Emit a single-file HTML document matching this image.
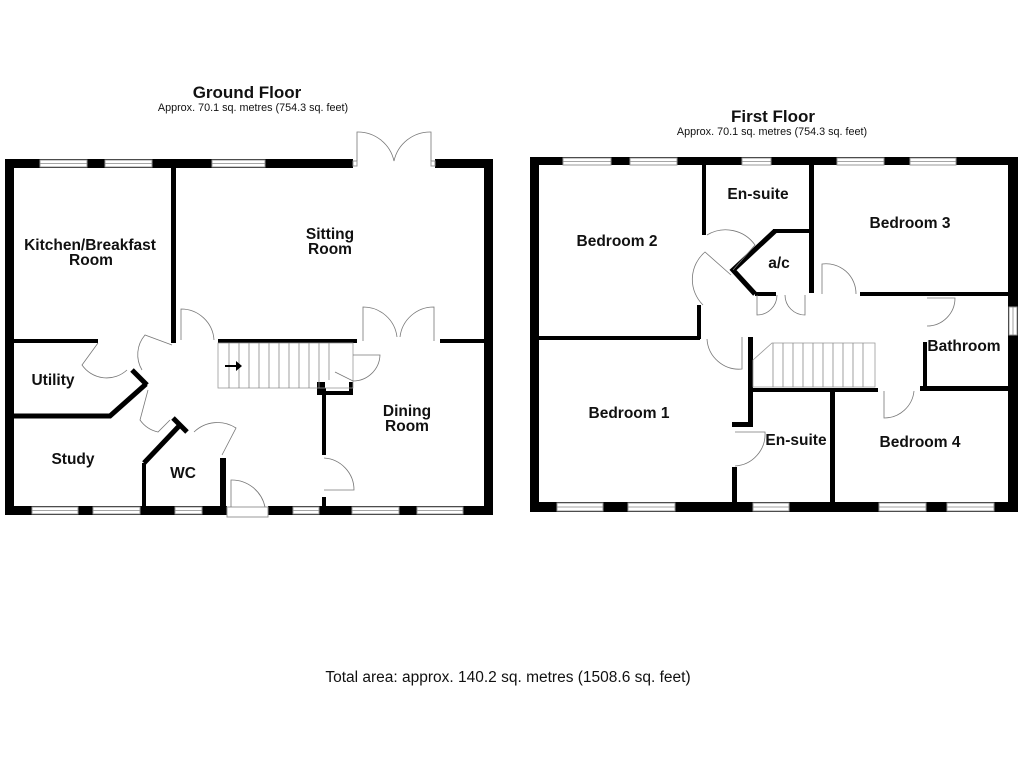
<!DOCTYPE html>
<html><head><meta charset="utf-8"><style>
html,body{margin:0;padding:0;background:#fff;}
svg{display:block;}
text{font-family:"Liberation Sans",Arial,sans-serif;fill:#111;}
.l{font-weight:bold;font-size:15.5px;text-anchor:middle;}
.w{fill:#fff;stroke:#999;stroke-width:1;}
.d{fill:none;stroke:#777;stroke-width:0.8;}
.s{stroke:#888;stroke-width:0.8;fill:none;}
</style></head><body>
<svg width="1024" height="768" viewBox="0 0 1024 768" xmlns="http://www.w3.org/2000/svg">
<rect width="1024" height="768" fill="#fff"/>
<text x="247" y="98" style="font-weight:bold;font-size:17px;text-anchor:middle">Ground Floor</text>
<text x="253" y="111" style="font-size:10.8px;text-anchor:middle">Approx. 70.1 sq. metres (754.3 sq. feet)</text>
<text x="773" y="122" style="font-weight:bold;font-size:17px;text-anchor:middle">First Floor</text>
<text x="772" y="135" style="font-size:10.8px;text-anchor:middle">Approx. 70.1 sq. metres (754.3 sq. feet)</text>
<text x="508" y="682" style="font-size:15.5px;text-anchor:middle">Total area: approx. 140.2 sq. metres (1508.6 sq. feet)</text>

<!-- ===== GROUND FLOOR ===== -->
<path d="M5 159H493V515H5Z M14 168V506H484V168Z" fill="#000" fill-rule="evenodd"/>
<rect class="w" x="40" y="160" width="47" height="7"/><line class="s" x1="40" y1="163.5" x2="87" y2="163.5"/>
<rect class="w" x="105" y="160" width="47" height="7"/><line class="s" x1="105" y1="163.5" x2="152" y2="163.5"/>
<rect class="w" x="212" y="160" width="53" height="7"/><line class="s" x1="212" y1="163.5" x2="265" y2="163.5"/>
<rect x="353" y="158" width="82" height="11" fill="#fff"/>
<rect class="w" x="353" y="161" width="4" height="5"/><rect class="w" x="431" y="161" width="4" height="5"/>
<path class="d" d="M357 161V132 A37 37 0 0 1 394 161 M431 161V132 A37 37 0 0 0 394 161"/>
<rect class="w" x="32" y="507" width="46" height="7"/><line class="s" x1="32" y1="510.5" x2="78" y2="510.5"/>
<rect class="w" x="93" y="507" width="47" height="7"/><line class="s" x1="93" y1="510.5" x2="140" y2="510.5"/>
<rect class="w" x="175" y="507" width="27" height="7"/><line class="s" x1="175" y1="510.5" x2="202" y2="510.5"/>
<rect x="227" y="505" width="41" height="12" fill="#fff"/><rect class="w" x="227" y="507" width="41" height="10"/>
<path class="d" d="M231 507V480 A34 34 0 0 1 265 507"/>
<rect class="w" x="293" y="507" width="26" height="7"/><line class="s" x1="293" y1="510.5" x2="319" y2="510.5"/>
<rect class="w" x="352" y="507" width="47" height="7"/><line class="s" x1="352" y1="510.5" x2="399" y2="510.5"/>
<rect class="w" x="417" y="507" width="46" height="7"/><line class="s" x1="417" y1="510.5" x2="463" y2="510.5"/>
<g fill="#000">
<rect x="171" y="168" width="5" height="175"/>
<rect x="13" y="339" width="85" height="4"/>
<rect x="218" y="339" width="139" height="4"/>
<rect x="440" y="339" width="44" height="4"/>
<rect x="322" y="388" width="4" height="67"/>
<rect x="322" y="497" width="4" height="10"/>
<rect x="317" y="382" width="8" height="13"/>
<rect x="317" y="391" width="36" height="4"/>
<rect x="349" y="382" width="4" height="13"/>
<rect x="142" y="463" width="4" height="44"/>
<rect x="220" y="458" width="6" height="49"/>
</g>
<g stroke="#000" fill="none">
<polyline points="13,416 110,416 146,384" stroke-width="5"/>
<line x1="132" y1="370" x2="147" y2="385" stroke-width="5"/>
<polyline points="144,463 180,425" stroke-width="5"/>
<line x1="173" y1="418" x2="187" y2="432" stroke-width="5"/>
</g>
<rect x="218" y="343" width="135" height="45" fill="none" stroke="#999" stroke-width="0.8"/>
<g class="s">
<line x1="229" y1="343" x2="229" y2="388"/><line x1="239" y1="343" x2="239" y2="388"/><line x1="249" y1="343" x2="249" y2="388"/><line x1="259" y1="343" x2="259" y2="388"/><line x1="269" y1="343" x2="269" y2="388"/><line x1="279" y1="343" x2="279" y2="388"/><line x1="289" y1="343" x2="289" y2="388"/><line x1="299" y1="343" x2="299" y2="388"/><line x1="309" y1="343" x2="309" y2="388"/><line x1="319" y1="343" x2="319" y2="388"/><line x1="329" y1="343" x2="329" y2="380"/>
</g>
<path d="M225 365H236V361L242 366L236 371V367H225Z" fill="#000"/>
<path class="d" d="M181 340V309 A33 33 0 0 1 214 340"/>
<path class="d" d="M363 341V307 A34 34 0 0 1 397 337 M434 341V307 A34 34 0 0 0 400 337"/>
<path class="d" d="M353 355H380 A27 27 0 0 1 353 381 L335 372"/>
<path class="d" d="M98 343L82 365 A30 30 0 0 0 127 370"/>
<path class="d" d="M172 345L145 335 A30 30 0 0 0 142 370"/>
<path class="d" d="M148 390L140 420 A30 30 0 0 0 158 432 L170 420"/>
<path class="d" d="M194 432 A34 34 0 0 1 236 428 L222 455"/>
<path class="d" d="M324 458 A32 32 0 0 1 354 490 H324"/>
<text class="l" x="90" y="250">Kitchen/Breakfast</text>
<text class="l" x="91" y="265">Room</text>
<text class="l" x="330" y="239">Sitting</text>
<text class="l" x="330" y="254">Room</text>
<text class="l" x="53" y="385">Utility</text>
<text class="l" x="73" y="464">Study</text>
<text class="l" x="183" y="478">WC</text>
<text class="l" x="407" y="416">Dining</text>
<text class="l" x="407" y="431">Room</text>

<!-- ===== FIRST FLOOR ===== -->
<path d="M530 157H1018V512H530Z M539 165V502H1008V165Z" fill="#000" fill-rule="evenodd"/>
<rect class="w" x="563" y="158" width="48" height="7"/><line class="s" x1="563" y1="161.5" x2="611" y2="161.5"/>
<rect class="w" x="630" y="158" width="47" height="7"/><line class="s" x1="630" y1="161.5" x2="677" y2="161.5"/>
<rect class="w" x="742" y="158" width="29" height="7"/><line class="s" x1="742" y1="161.5" x2="771" y2="161.5"/>
<rect class="w" x="837" y="158" width="47" height="7"/><line class="s" x1="837" y1="161.5" x2="884" y2="161.5"/>
<rect class="w" x="910" y="158" width="46" height="7"/><line class="s" x1="910" y1="161.5" x2="956" y2="161.5"/>
<rect class="w" x="557" y="503" width="46" height="8"/><line class="s" x1="557" y1="507" x2="603" y2="507"/>
<rect class="w" x="628" y="503" width="47" height="8"/><line class="s" x1="628" y1="507" x2="675" y2="507"/>
<rect class="w" x="753" y="503" width="36" height="8"/><line class="s" x1="753" y1="507" x2="789" y2="507"/>
<rect class="w" x="879" y="503" width="47" height="8"/><line class="s" x1="879" y1="507" x2="926" y2="507"/>
<rect class="w" x="947" y="503" width="47" height="8"/><line class="s" x1="947" y1="507" x2="994" y2="507"/>
<rect class="w" x="1009" y="307" width="8" height="28"/><line class="s" x1="1013" y1="307" x2="1013" y2="335"/>
<g fill="#000">
<rect x="702" y="165" width="4" height="70"/>
<rect x="809" y="165" width="5" height="128"/>
<rect x="773" y="229" width="38" height="4"/>
<rect x="755" y="292" width="21" height="4"/>
<rect x="860" y="292" width="148" height="4"/>
<rect x="923" y="342" width="4" height="47"/>
<rect x="920" y="386" width="88" height="5"/>
<rect x="539" y="336" width="161" height="4"/>
<rect x="697" y="305" width="4" height="34"/>
<rect x="748" y="337" width="5" height="88"/>
<rect x="732" y="422" width="21" height="5"/>
<rect x="732" y="467" width="5" height="35"/>
<rect x="753" y="388" width="125" height="4"/>
<rect x="830" y="390" width="5" height="112"/>
</g>
<polyline points="775,231 733,270 755,294" fill="none" stroke="#000" stroke-width="5"/>
<path d="M753 387V360L772 343H875V387Z" fill="none" stroke="#999" stroke-width="0.8"/>
<g class="s">
<line x1="773" y1="343" x2="773" y2="387"/><line x1="783" y1="343" x2="783" y2="387"/><line x1="793" y1="343" x2="793" y2="387"/><line x1="803" y1="343" x2="803" y2="387"/><line x1="813" y1="343" x2="813" y2="387"/><line x1="823" y1="343" x2="823" y2="387"/><line x1="833" y1="343" x2="833" y2="387"/><line x1="843" y1="343" x2="843" y2="387"/><line x1="853" y1="343" x2="853" y2="387"/><line x1="863" y1="343" x2="863" y2="387"/>
</g>
<path class="d" d="M707 235 A36 36 0 0 1 755 245 L733 270"/>
<path class="d" d="M703 305 A36 36 0 0 1 705 252 L731 275"/>
<path class="d" d="M757 295V315 A20 20 0 0 0 777 295"/>
<path class="d" d="M805 295V315 A20 20 0 0 1 785 295"/>
<path class="d" d="M822 294V264 A30 30 0 0 1 856 294"/>
<path class="d" d="M927 298H955 A28 28 0 0 1 927 326"/>
<path class="d" d="M707 339 A32 32 0 0 0 742 369V337"/>
<path class="d" d="M884 391V418 A30 30 0 0 0 914 391"/>
<path class="d" d="M735 432H765 A32 32 0 0 1 735 466"/>
<text class="l" x="617" y="246">Bedroom 2</text>
<text class="l" x="758" y="199">En-suite</text>
<text class="l" x="910" y="228">Bedroom 3</text>
<text class="l" x="779" y="268">a/c</text>
<text class="l" x="629" y="418">Bedroom 1</text>
<text class="l" x="964" y="351">Bathroom</text>
<text class="l" x="796" y="445">En-suite</text>
<text class="l" x="920" y="447">Bedroom 4</text>
</svg>
</body></html>
